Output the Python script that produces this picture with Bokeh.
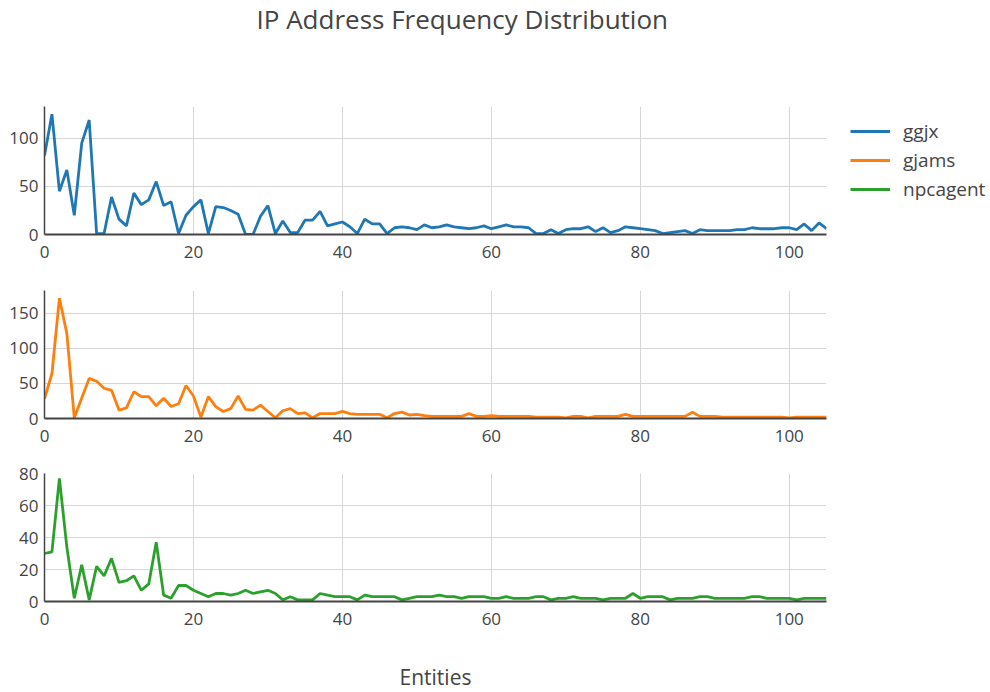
from bokeh.plotting import figure
from bokeh.models import (Legend, LegendItem, FixedTicker, Range1d, Title,
                          ColumnDataSource, CDSView, IndexFilter)
from bokeh.layouts import column
from bokeh.embed import file_html
from bokeh.resources import INLINE

# ---- data ----
entities = list(range(106))

ggjx = [82, 125, 45, 67, 20, 95, 119, 1, 1, 39,
        16, 9, 43, 31, 36, 55, 30, 34, 1, 20,
        29, 36, 1, 29, 28, 25, 21, 0, 0, 19,
        30, 1, 14, 2, 2, 15, 15, 24, 9, 11,
        13, 8, 1, 16, 11, 11, 1, 7, 8, 7,
        5, 10, 7, 8, 10, 8, 7, 6, 7, 9,
        6, 8, 10, 8, 8, 7, 1, 1, 5, 1,
        5, 6, 6, 8, 3, 7, 2, 4, 8, 7,
        6, 5, 4, 1, 2, 3, 4, 1, 5, 4,
        4, 4, 4, 5, 5, 7, 6, 6, 6, 7,
        7, 5, 11, 4, 12, 6]

gjams = [28, 64, 171, 121, 1, 29, 57, 53, 43, 40,
         12, 15, 38, 31, 31, 18, 29, 17, 21, 47,
         32, 2, 31, 17, 10, 14, 32, 13, 12, 19,
         10, 1, 11, 14, 7, 8, 1, 7, 7, 7,
         10, 7, 6, 6, 6, 6, 1, 7, 9, 5,
         6, 4, 3, 3, 3, 3, 3, 7, 3, 3,
         4, 3, 3, 3, 3, 3, 2, 2, 2, 2,
         1, 3, 3, 1, 3, 3, 3, 3, 6, 3,
         3, 3, 3, 3, 3, 3, 3, 9, 3, 3,
         3, 2, 2, 2, 2, 2, 2, 2, 2, 2,
         1, 2, 2, 2, 2, 2]

npcagent = [30, 31, 77, 34, 2, 23, 1, 22, 16, 27,
            12, 13, 16, 7, 11, 37, 4, 2, 10, 10,
            7, 5, 3, 5, 5, 4, 5, 7, 5, 6,
            7, 5, 1, 3, 1, 1, 1, 5, 4, 3,
            3, 3, 1, 4, 3, 3, 3, 3, 1, 2,
            3, 3, 3, 4, 3, 3, 2, 3, 3, 3,
            2, 2, 3, 2, 2, 2, 3, 3, 1, 2,
            2, 3, 2, 2, 2, 1, 2, 2, 2, 5,
            2, 3, 3, 3, 1, 2, 2, 2, 3, 3,
            2, 2, 2, 2, 2, 3, 3, 2, 2, 2,
            2, 1, 2, 2, 2, 2]

series_names = ["ggjx", "gjams", "npcagent"]
series_colors = ["#1f77b4", "#ff7f0e", "#2ca02c"]
x_ticks = [0, 20, 40, 60, 80, 100]
y_ticks_1 = [0, 50, 100]
y_ticks_2 = [0, 50, 100, 150]
y_ticks_3 = [0, 20, 40, 60, 80]
y_max = [133, 182, 80]
chart_title = "IP Address Frequency Distribution"

FONT = "Open Sans"
TXT = "#444444"
GRID = "#d6d6d6"
LW = 2.8


def panel(values, color, ymax, yticks, top, bottom):
    p = figure(frame_width=782, frame_height=128,
               x_range=Range1d(0, 105), y_range=Range1d(0, ymax),
               output_backend="svg", toolbar_location=None,
               min_border_left=44, min_border_right=156,
               min_border_top=top, min_border_bottom=bottom,
               outline_line_color=None, background_fill_color="white",
               border_fill_color="white")
    r = p.line(entities, values, line_color=color, line_width=LW)
    p.xaxis.ticker = FixedTicker(ticks=x_ticks)
    p.yaxis.ticker = FixedTicker(ticks=yticks)
    for ax in (p.xaxis[0], p.yaxis[0]):
        ax.major_tick_line_color = None
        ax.minor_tick_line_color = None
        ax.major_label_text_font = FONT
        ax.major_label_text_font_size = "17px"
        ax.major_label_text_color = TXT
        ax.axis_line_color = TXT
    p.xaxis.axis_line_width = 2
    p.yaxis.axis_line_width = 1.5
    p.xaxis.major_label_standoff = 5
    p.yaxis.major_label_standoff = 0
    p.xgrid.grid_line_color = GRID
    p.ygrid.grid_line_color = GRID
    return p, r


p1, r1 = panel(ggjx, series_colors[0], y_max[0], y_ticks_1, 106, 36)
p2, r2 = panel(gjams, series_colors[1], y_max[1], y_ticks_2, 20, 35)
p3, r3 = panel(npcagent, series_colors[2], y_max[2], y_ticks_3, 20, 91)

p3.xaxis.axis_label = "Entities"
p3.xaxis.axis_label_text_font = FONT
p3.xaxis.axis_label_text_font_size = "21px"
p3.xaxis.axis_label_text_font_style = "normal"
p3.xaxis.axis_label_text_color = TXT
p3.xaxis.axis_label_standoff = 35

# a blank spacer title next to the frame, then the chart title above it
p1.add_layout(Title(text=" ", text_font_size="1px", text_color="white", standoff=65), "above")
p1.add_layout(Title(text=chart_title, align="left",
                    text_font=FONT, text_font_size="26px", text_font_style="normal",
                    text_color=TXT, vertical_align="top", standoff=0, offset=212),
              "above")

# legend entries for the other two series: their data, shown through a one-point view
src2 = ColumnDataSource(dict(x=entities, y=gjams))
src3 = ColumnDataSource(dict(x=entities, y=npcagent))
d2 = p1.line("x", "y", source=src2, view=CDSView(filter=IndexFilter([0])),
             line_color=series_colors[1], line_width=LW)
d3 = p1.line("x", "y", source=src3, view=CDSView(filter=IndexFilter([0])),
             line_color=series_colors[2], line_width=LW)
legend = Legend(items=[LegendItem(label=series_names[0], renderers=[r1]),
                       LegendItem(label=series_names[1], renderers=[d2]),
                       LegendItem(label=series_names[2], renderers=[d3])],
                location=(24, 32), margin=0, padding=0,
                border_line_color=None, background_fill_alpha=0,
                glyph_width=40, glyph_height=20, label_height=20,
                label_standoff=13, spacing=3,
                label_text_font=FONT, label_text_font_size="19px",
                label_text_color=TXT)
p1.add_layout(legend, "right")

layout = column(p1, p2, p3, spacing=0)
open("out.html", "w").write(file_html(layout, INLINE))
